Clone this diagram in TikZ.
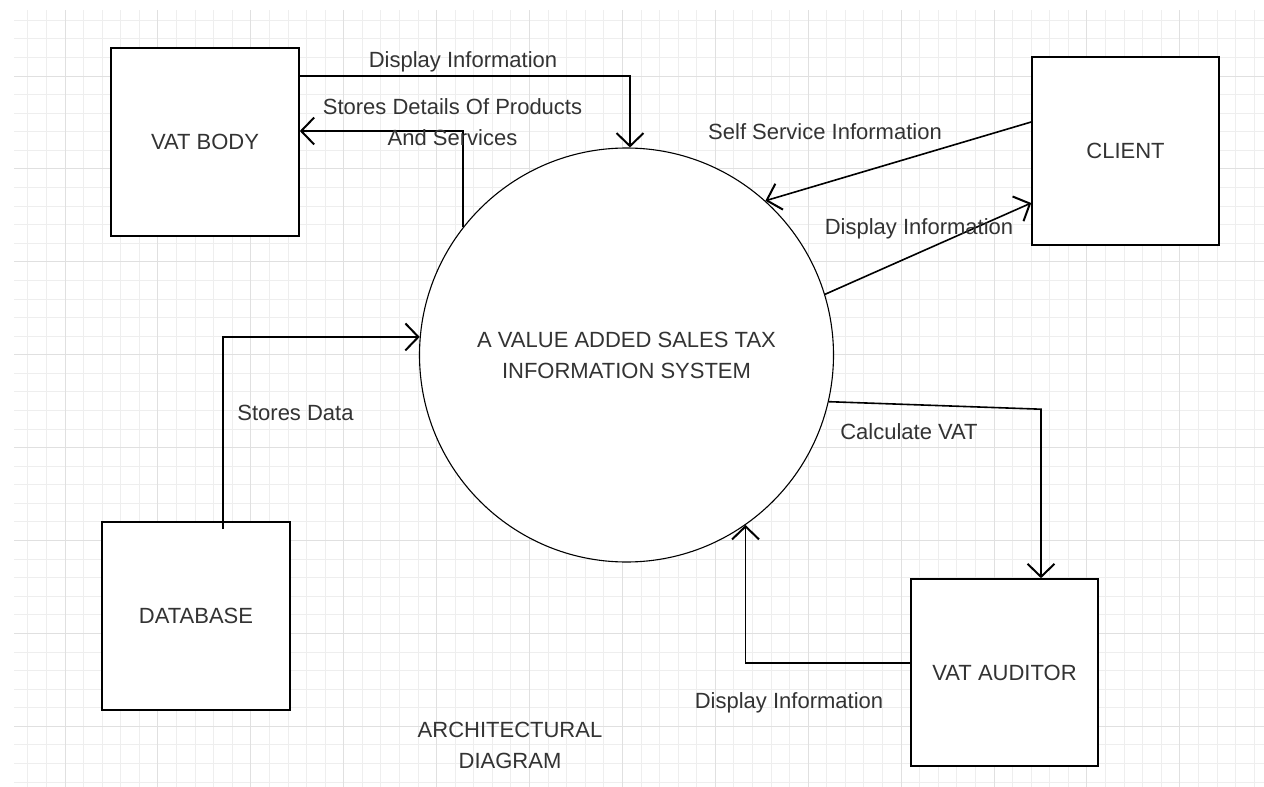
\documentclass[tikz,border=0pt]{standalone}
\usepackage{fontspec}
\setmainfont{Liberation Sans}
\usetikzlibrary{arrows.meta}
\definecolor{txt}{RGB}{51,51,51}
\definecolor{gridminor}{RGB}{238,238,238}
\definecolor{gridmajor}{RGB}{224,224,224}
\begin{document}
\begin{tikzpicture}[x=1pt,y=-1pt,
  box/.style={draw=black, line width=1.6pt, minimum width=188pt, minimum height=188pt, inner sep=0pt, font=\fontsize{22}{31}\selectfont, text=txt},
  proc/.style={draw=black, circle, line width=1.1pt, minimum size=414pt, inner sep=0pt, align=center, font=\fontsize{22}{31}\selectfont, text=txt},
  lbl/.style={inner sep=0pt, text height=15.75pt, text depth=0pt, font=\fontsize{22}{31}\selectfont, text=txt},
  lbltwo/.style={inner sep=0pt, align=center, font=\fontsize{22}{31}\selectfont, text=txt},
  arr/.style={line width=1.6pt, draw=black, -{Straight Barb[length=13pt,width=27pt,line width=2pt]}},
  minorln/.style={draw=gridminor, line width=0.9pt},
  majorln/.style={draw=gridmajor, line width=0.9pt}]
\useasboundingbox (0,0) rectangle (1264,787);
\fill[white] (0,0) rectangle (1264,787);
% grid
\foreach \i in {-2,...,64} {\draw[minorln] ({65+18.58*\i},10) -- ({65+18.58*\i},787);}
\foreach \j in {-3,...,38} {\draw[minorln] (14,{76+18.58*\j}) -- (1264,{76+18.58*\j});}
\foreach \i in {0,5,...,60} {\draw[majorln] ({65+18.58*\i},10) -- ({65+18.58*\i},787);}
\foreach \j in {0,5,...,35} {\draw[majorln] (14,{76+18.58*\j}) -- (1264,{76+18.58*\j});}
% nodes
\node[box, fill=white] (vb) at (205,142) {VAT BODY};
\node[box, fill=white, minimum width=187pt] (cl) at (1125.5,151) {CLIENT};
\node[box, fill=white] (db) at (196,616) {DATABASE};
\node[box, fill=white, minimum width=187pt, minimum height=187pt] (aud) at (1004.5,672.5) {VAT AUDITOR};
\node[proc, fill=white] (sys) at (626.5,355) {A VALUE ADDED SALES TAX\\INFORMATION SYSTEM};
% connectors
\draw[arr] ([yshift=66pt]vb.east) -| ([xshift=3.5pt]sys.north);
\draw[arr] (sys.142) |- ([yshift=11pt]vb.east);
\draw[arr] ([yshift=29pt]cl.west) -- (sys.48);
\draw[arr] (sys.17) -- ([yshift=-52pt]cl.west);
\draw[arr] ([xshift=27pt,yshift=-8pt]db.north) |- (sys.175);
\draw[arr] (sys.-13) -- ([xshift=36.5pt,yshift=169pt]aud.north) -- ([xshift=36.5pt]aud.north);
\draw[arr] ([yshift=9.5pt]aud.west) -| (sys.-55.7);
% labels
\node[lbl] (l1) at (463,60) {Display Information};
\node[lbltwo] (l2) at (452.5,122) {Stores Details Of Products\\And Services};
\node[lbl] (l3) at (825,132) {Self Service Information};
\node[lbl] (l4) at (919,227) {Display Information};
\node[lbl] (l5) at (295.5,413) {Stores Data};
\node[lbl] (l6) at (909,432) {Calculate VAT};
\node[lbl] (l7) at (789,701) {Display Information};
\node[lbltwo] (title) at (510,745) {ARCHITECTURAL\\DIAGRAM};
\end{tikzpicture}
\end{document}
